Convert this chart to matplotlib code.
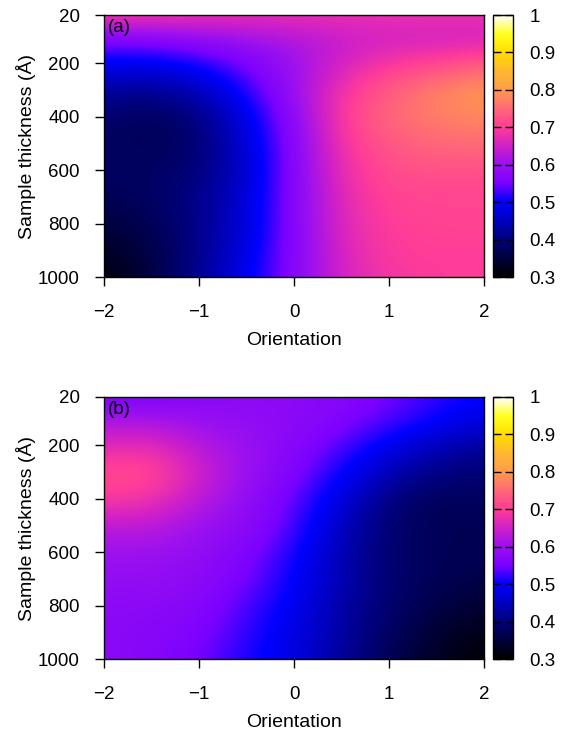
import numpy as np
import matplotlib
matplotlib.use('Agg')
import matplotlib.pyplot as plt
from matplotlib.colors import LinearSegmentedColormap

plt.rcParams['font.family'] = ['Liberation Sans', 'DejaVu Sans']
plt.rcParams['font.size'] = 13.5

# grid of the maps (orientation columns, thickness rows in Angstrom)
orientation = [-2.0, -1.5, -1.0, -0.5, 0.0, 0.5, 1.0, 1.5, 2.0]
thickness = [20, 118, 216, 314, 412, 510, 608, 706, 804, 902, 1000]

# panel (a) values
map_a = [
    [0.70, 0.70, 0.69, 0.68, 0.68, 0.68, 0.68, 0.68, 0.68],
    [0.55, 0.56, 0.58, 0.60, 0.62, 0.64, 0.65, 0.65, 0.65],
    [0.49, 0.48, 0.50, 0.55, 0.60, 0.66, 0.70, 0.72, 0.75],
    [0.42, 0.41, 0.44, 0.51, 0.60, 0.69, 0.74, 0.78, 0.80],
    [0.39, 0.37, 0.40, 0.48, 0.58, 0.70, 0.75, 0.77, 0.78],
    [0.38, 0.37, 0.39, 0.47, 0.57, 0.69, 0.73, 0.75, 0.75],
    [0.38, 0.38, 0.40, 0.46, 0.57, 0.68, 0.72, 0.72, 0.72],
    [0.37, 0.38, 0.41, 0.47, 0.57, 0.67, 0.71, 0.71, 0.71],
    [0.35, 0.37, 0.41, 0.47, 0.57, 0.67, 0.70, 0.71, 0.71],
    [0.33, 0.36, 0.41, 0.48, 0.57, 0.66, 0.70, 0.70, 0.70],
    [0.31, 0.35, 0.42, 0.49, 0.57, 0.66, 0.69, 0.70, 0.70],
]

# panel (b) values
map_b = [
    [0.55, 0.56, 0.57, 0.58, 0.58, 0.57, 0.55, 0.52, 0.50],
    [0.62, 0.62, 0.60, 0.59, 0.58, 0.56, 0.53, 0.50, 0.47],
    [0.67, 0.68, 0.63, 0.60, 0.57, 0.53, 0.48, 0.44, 0.42],
    [0.72, 0.72, 0.65, 0.60, 0.56, 0.50, 0.44, 0.40, 0.39],
    [0.69, 0.68, 0.63, 0.59, 0.54, 0.47, 0.40, 0.37, 0.38],
    [0.63, 0.63, 0.60, 0.58, 0.53, 0.45, 0.39, 0.37, 0.37],
    [0.60, 0.60, 0.59, 0.56, 0.51, 0.44, 0.39, 0.37, 0.37],
    [0.59, 0.59, 0.58, 0.55, 0.50, 0.44, 0.39, 0.37, 0.36],
    [0.58, 0.58, 0.57, 0.53, 0.49, 0.43, 0.39, 0.36, 0.34],
    [0.58, 0.57, 0.56, 0.52, 0.48, 0.43, 0.38, 0.34, 0.32],
    [0.58, 0.57, 0.55, 0.51, 0.48, 0.42, 0.37, 0.33, 0.30],
]

panels = ['(a)', '(b)']
cbar_ticks = [0.3, 0.4, 0.5, 0.6, 0.7, 0.8, 0.9, 1.0]
cbar_labels = ['0.3', '0.4', '0.5', '0.6', '0.7', '0.8', '0.9', '1']

# black - blue - violet - pink - orange - yellow - white palette
pal = [
    (0.0, '#000000'), (0.5/7, '#00003c'), (1/7, '#00007c'), (1.5/7, '#0000c0'),
    (2/7, '#0000ff'), (2.5/7, '#7a00ff'), (3/7, '#9a10f0'), (3.5/7, '#d020c8'),
    (4/7, '#ff3c98'), (4.5/7, '#ff6878'), (5/7, '#ff9a4c'), (5.5/7, '#ffb830'),
    (6/7, '#ffdc00'), (6.5/7, '#ffff20'), (1.0, '#ffffff'),
]
cmap = LinearSegmentedColormap.from_list('pal', pal)

fig = plt.figure(figsize=(5.7, 7.36), dpi=100)
axes_pos = [[0.1825, 0.6236, 0.667, 0.3560], [0.1825, 0.1046, 0.667, 0.3560]]
cbar_pos = [[0.865, 0.6236, 0.035, 0.3560], [0.865, 0.1046, 0.035, 0.3560]]

dx = (orientation[1] - orientation[0]) / 2
dy = (thickness[1] - thickness[0]) / 2
ext = [orientation[0] - dx, orientation[-1] + dx, thickness[-1] + dy, thickness[0] - dy]

for i, data in enumerate([map_a, map_b]):
    ax = fig.add_axes(axes_pos[i])
    im = ax.imshow(np.array(data), cmap=cmap, vmin=0.3, vmax=1.0, extent=ext,
                   aspect='auto', interpolation='bicubic', origin='upper')
    ax.set_xlim(-2, 2)
    ax.set_ylim(1000, 20)
    ax.set_xticks([-2, -1, 0, 1, 2])
    ax.set_xticklabels(['\u22122', '\u22121', '0', '1', '2'])
    ax.set_yticks([20, 200, 400, 600, 800, 1000])
    ax.tick_params(direction='out', length=6.5, width=1)
    ax.tick_params(axis='x', pad=13)
    ax.tick_params(axis='y', pad=11)
    ax.set_xlabel('Orientation', fontsize=14, labelpad=8)
    ax.set_ylabel('Sample thickness (\u00c5)', fontsize=14, labelpad=1)
    ax.text(0.01, 0.985, panels[i], transform=ax.transAxes, va='top', ha='left')
    for s in ax.spines.values():
        s.set_linewidth(1.0)

    cax = fig.add_axes(cbar_pos[i])
    cb = fig.colorbar(im, cax=cax, ticks=cbar_ticks)
    cb.ax.set_yticklabels(cbar_labels)
    cb.outline.set_linewidth(1.0)
    cax.tick_params(axis='y', direction='in', length=6, width=1, left=True, right=True, pad=12)

fig.savefig('out.png', dpi=100)
